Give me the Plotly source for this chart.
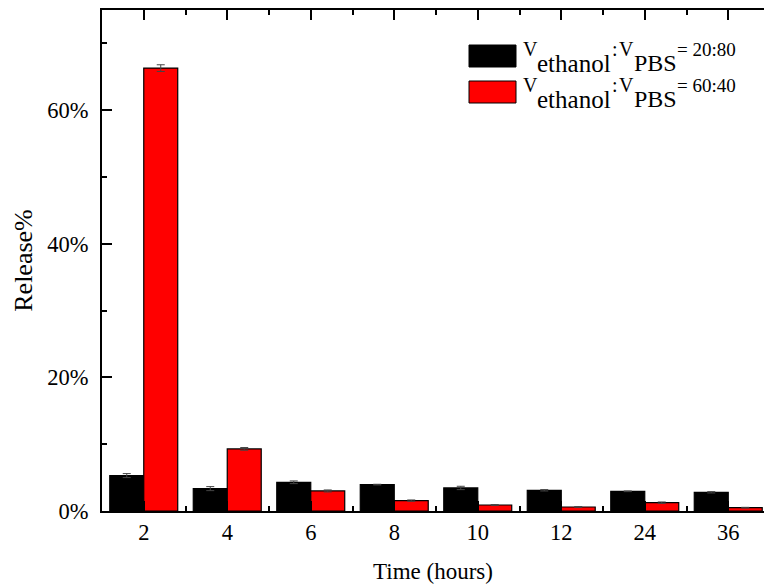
import plotly.graph_objects as go

# ---- data ----
time_labels = ["2", "4", "6", "8", "10", "12", "24", "36"]
release_20_80 = [5.3, 3.35, 4.3, 3.95, 3.45, 3.1, 2.95, 2.8]
err_20_80 = [0.3, 0.3, 0.2, 0.05, 0.25, 0.1, 0.05, 0.1]
release_60_40 = [66.3, 9.3, 3.0, 1.55, 0.9, 0.6, 1.25, 0.5]
err_60_40 = [0.5, 0.2, 0.15, 0.1, 0.05, 0.05, 0.1, 0.05]
ratio_labels = ["20:80", "60:40"]
series_names = ["V<sub>ethanol</sub>:V<sub>PBS</sub> = " + r for r in ratio_labels]
y_ticks = [0, 20, 40, 60]
y_ticktext = ["0%", "20%", "40%", "60%"]

W, H = 764, 584
ML, MR, MT, MB = 102, 0, 10, 73
PW, PH = W - ML - MR, H - MT - MB
FONT = "Liberation Serif, Times New Roman, serif"

def px_x(px):
    return (px - ML) / PW

def px_y(py):
    return (H - MB - py) / PH

xs = list(range(len(time_labels)))

fig = go.Figure()
fig.add_trace(go.Bar(
    x=xs, y=release_20_80, name=series_names[0],
    marker=dict(color="#000000", line=dict(color="#000000", width=1.2)),
    error_y=dict(type="data", array=err_20_80, color="#444444", thickness=1, width=4),
    showlegend=False,
))
fig.add_trace(go.Bar(
    x=xs, y=release_60_40, name=series_names[1],
    marker=dict(color="#ff0000", line=dict(color="#000000", width=1.2)),
    error_y=dict(type="data", array=err_60_40, color="#444444", thickness=1, width=4),
    showlegend=False,
))

# manual legend (large swatches and large subscripts like the original)
colors = ["#000000", "#ff0000"]
box_tops = [45, 81]
for ratio, col, top in zip(ratio_labels, colors, box_tops):
    fig.add_shape(type="rect", xref="paper", yref="paper",
                  x0=px_x(469), x1=px_x(516), y0=px_y(top + 22), y1=px_y(top),
                  fillcolor=col, line=dict(color="#000000", width=1))
    base = top + 11         # baseline of the main text
    sub_base = top + 26.5   # baseline of the subscripts
    pieces = [
        ("V", 521.5, base, 20),
        ("ethanol", 536, sub_base, 25),
        (":", 611, base, 20),
        ("V", 617.5, base, 20),
        ("PBS", 632.5, sub_base, 24),
        ("= " + ratio, 676, base, 19),
    ]
    for txt, xpx, bl, fs in pieces:
        fig.add_annotation(xref="paper", yref="paper", x=px_x(xpx),
                           y=px_y(bl - 0.3375 * fs),
                           xanchor="left", yanchor="middle", showarrow=False,
                           borderpad=0, text=txt,
                           font=dict(family=FONT, size=fs, color="#000000"))

fig.update_layout(
    width=W, height=H,
    margin=dict(l=ML, r=MR, t=MT, b=MB, pad=0, autoexpand=False),
    paper_bgcolor="white", plot_bgcolor="white",
    barmode="group", bargap=0.186, bargroupgap=0,
    font=dict(family=FONT, size=22, color="#000000"),
)
fig.update_xaxes(
    automargin=False,
    range=[-0.5, -0.5 + PW / 83.5],
    tickmode="array", tickvals=xs, ticktext=time_labels,
    ticks="inside", ticklen=10, tickwidth=2, tickcolor="#000000",
    minor=dict(tickmode="array", tickvals=[i + 0.5 for i in xs[:-1]] + [-0.5],
               ticks="inside", ticklen=5, tickwidth=2, tickcolor="#000000"),
    showline=True, linewidth=2, linecolor="#000000", mirror="ticks",
    showgrid=False, zeroline=False,
    tickfont=dict(family=FONT, size=22.5),
    ticklabelstandoff=0,
    title=dict(text="Time (hours)", font=dict(family=FONT, size=23), standoff=30),
)
fig.update_yaxes(
    automargin=False,
    range=[0, 75],
    tickmode="array", tickvals=y_ticks, ticktext=y_ticktext,
    ticks="inside", ticklen=10, tickwidth=2, tickcolor="#000000",
    minor=dict(tickmode="array", tickvals=[10, 30, 50, 70],
               ticks="inside", ticklen=5, tickwidth=2, tickcolor="#000000"),
    showline=True, linewidth=2, linecolor="#000000", mirror=True,
    showgrid=False, zeroline=False,
    tickfont=dict(family=FONT, size=22.5),
    ticklabelstandoff=7,
    title=dict(text="Release%", font=dict(family=FONT, size=26), standoff=7),
)

fig.write_html("out.html")
